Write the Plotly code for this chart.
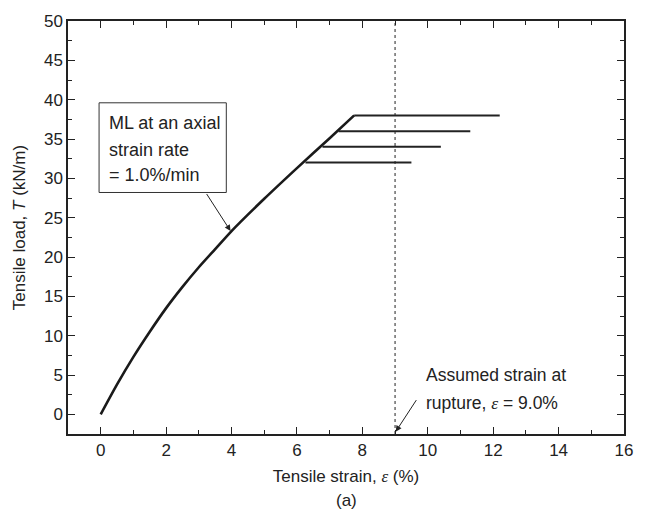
import plotly.graph_objects as go

# Data
strain = [0.0, 0.5, 1.0, 1.5, 2.0, 2.5, 3.0, 3.5, 4.0, 5.0, 6.0, 7.0, 7.75]
load = [0.0, 3.8, 7.3, 10.5, 13.5, 16.2, 18.7, 21.0, 23.3, 27.4, 31.3, 35.1, 38.0]

branch_loads = [38.0, 36.0, 34.0, 32.0]
branch_start = [7.75, 7.27, 6.78, 6.26]
branch_end = [12.2, 11.3, 10.4, 9.5]

rupture_strain = 9.0

FONT = "Liberation Sans, Arial, sans-serif"
FS = 17
EPS = "<span style='font-family:Liberation Serif'><i>ε</i></span>"

fig = go.Figure()

fig.add_trace(go.Scatter(x=[rupture_strain, rupture_strain], y=[-2.5, 50],
                         mode="lines", line=dict(color="#222", width=1, dash="dot"),
                         showlegend=False, hoverinfo="skip"))

fig.add_trace(go.Scatter(x=strain, y=load, mode="lines",
                         line=dict(color="#1a1a1a", width=2.6, shape="spline", smoothing=0.6),
                         showlegend=False))

for yv, x0, x1 in zip(branch_loads, branch_start, branch_end):
    fig.add_trace(go.Scatter(x=[x0, x1], y=[yv, yv], mode="lines",
                             line=dict(color="#222", width=2),
                             showlegend=False))

axis_common = dict(
    showgrid=False, zeroline=False, showline=True, linecolor="#222", linewidth=1.5,
    mirror="ticks", ticks="inside", ticklen=7, tickwidth=1.3, tickcolor="#222",
    tickfont=dict(family=FONT, size=FS, color="#222"),
)

fig.update_xaxes(range=[-1, 16], dtick=2, tick0=0,
                 minor=dict(dtick=1, ticks="inside", ticklen=4, tickwidth=1.2, tickcolor="#222"),
                 title=dict(text="Tensile strain, " + EPS + " (%)",
                            font=dict(family=FONT, size=FS, color="#222"), standoff=11),
                 **axis_common)
fig.update_yaxes(range=[-2.5, 50], dtick=5, tick0=0,
                 minor=dict(dtick=2.5, ticks="inside", ticklen=4, tickwidth=1.2, tickcolor="#222"),
                 title=dict(text="Tensile load, <i>T</i> (kN/m)",
                            font=dict(family=FONT, size=FS, color="#222"), standoff=14),
                 **axis_common)

# Box annotation
fig.add_shape(type="rect", xref="x", yref="y", x0=-0.05, x1=3.84, y0=28.2, y1=39.6,
              line=dict(color="#333", width=1), fillcolor="white", layer="above")
box_lines = ["ML at an axial", "strain rate", "= 1.0%/min"]
box_y = [37.0, 33.6, 30.4]
for t, yy in zip(box_lines, box_y):
    fig.add_annotation(x=0.2, y=yy, text=t, showarrow=False, xanchor="left", yanchor="middle",
                       font=dict(family=FONT, size=18, color="#222"))
fig.add_annotation(x=3.97, y=23.3, ax=3.21, ay=28.2, axref="x", ayref="y", text="",
                   showarrow=True, arrowhead=2, arrowsize=1.2, arrowwidth=1, arrowcolor="#222")

# Rupture annotation
rup_lines = ["Assumed strain at", "rupture, " + EPS + " = 9.0%"]
rup_y = [4.95, 1.4]
for t, yy in zip(rup_lines, rup_y):
    fig.add_annotation(x=9.89, y=yy, text=t, showarrow=False, xanchor="left", yanchor="middle",
                       font=dict(family=FONT, size=17.5, color="#222"))
fig.add_annotation(x=9.02, y=-2.2, ax=9.68, ay=2.0, axref="x", ayref="y", text="",
                   showarrow=True, arrowhead=2, arrowsize=1.2, arrowwidth=1, arrowcolor="#222")

fig.add_annotation(x=0.5, y=0, xref="paper", yref="paper", yshift=-66, text="(a)",
                   showarrow=False, xanchor="center", yanchor="middle",
                   font=dict(family=FONT, size=FS, color="#222"))

fig.update_layout(width=645, height=512, margin=dict(l=68, r=13, t=20, b=78),
                  plot_bgcolor="white", paper_bgcolor="white",
                  font=dict(family=FONT, size=FS, color="#222"))

fig.write_html("out.html")
